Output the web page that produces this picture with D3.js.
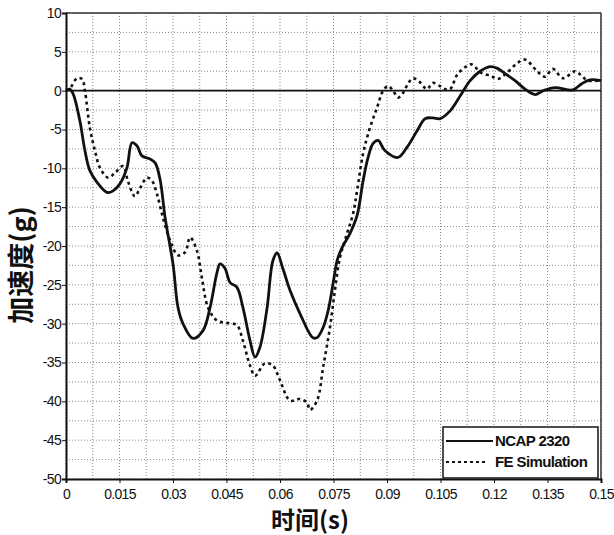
<!DOCTYPE html>
<html>
<head>
<meta charset="utf-8">
<script src="https://cdn.jsdelivr.net/npm/d3@7"></script>
<style>
    body { margin: 0; background: #fff; }
    #chart svg { display: block; }
    .tick text { font-family: "Liberation Sans", Arial, sans-serif; font-size: 14px; letter-spacing: -0.7px; fill: #111; }
    .grid line { stroke: #888; stroke-width: 1; stroke-dasharray: 1,2; }
</style>
</head>
<body>
<div id="chart"></div>
<script>
// time (s) and acceleration (g)
var ncap_data = [
    [0, 0], [0.001, 0.2], [0.002, -0.4], [0.0039, -3.9], [0.0053, -7.7], [0.0067, -10.3],
    [0.0087, -11.8], [0.0115, -13.1], [0.0132, -12.9], [0.0151, -12.0], [0.0171, -9.9],
    [0.0185, -6.7], [0.0199, -7.1], [0.0213, -8.4], [0.0236, -8.8], [0.025, -9.3],
    [0.0264, -11.5], [0.0278, -16.4], [0.03, -22.3], [0.0314, -27.9], [0.0328, -30.0],
    [0.0356, -31.9], [0.0384, -30.9], [0.0404, -27.9], [0.0423, -23.5], [0.0432, -22.3],
    [0.0446, -22.9], [0.046, -24.7], [0.0479, -25.3], [0.0496, -27.9], [0.0516, -32.2],
    [0.053, -34.3], [0.0544, -33.0], [0.0564, -27.9], [0.058, -21.9], [0.0592, -20.9],
    [0.0608, -22.9], [0.0628, -25.7], [0.0656, -28.7], [0.0692, -31.8], [0.0704, -31.8],
    [0.0721, -30.5], [0.0735, -28.3], [0.0749, -24.8], [0.076, -21.9], [0.0774, -20.2],
    [0.0796, -18.4], [0.0816, -16.1], [0.0833, -11.6], [0.0847, -8.6], [0.0861, -6.8],
    [0.0875, -6.4], [0.0894, -7.7], [0.0931, -8.6], [0.0956, -7.3], [0.0984, -5.2],
    [0.1007, -3.6], [0.1029, -3.5], [0.1049, -3.6], [0.1077, -2.6], [0.1105, -0.7],
    [0.1133, 1.3], [0.1161, 2.5], [0.1189, 3.1], [0.1208, 2.9], [0.1231, 2.2],
    [0.1259, 1.3], [0.1287, 0.2], [0.1315, -0.5], [0.1338, 0.0], [0.1371, 0.4],
    [0.1421, 0.1], [0.1446, 0.9], [0.1469, 1.4], [0.15, 1.3]
];

var fe_data = [
    [0, 0], [0.0011, 0.3], [0.0031, 1.6], [0.0045, 1.5], [0.0053, 0], [0.0067, -4.8],
    [0.0081, -7.7], [0.0095, -9.9], [0.0118, -11.2], [0.0137, -10.6], [0.016, -9.7],
    [0.0174, -11.7], [0.0193, -13.6], [0.0207, -12.6], [0.0227, -11.2], [0.0241, -11.6],
    [0.0255, -13.3], [0.0272, -16.4], [0.0292, -19.3], [0.0314, -21.2], [0.0334, -20.8],
    [0.0348, -18.9], [0.0367, -20.6], [0.0381, -24.1], [0.0398, -27.9], [0.0423, -29.6],
    [0.0451, -29.9], [0.0479, -30.2], [0.0496, -32.2], [0.0516, -35.4], [0.053, -36.7],
    [0.0558, -35.1], [0.058, -35.4], [0.06, -37.3], [0.0628, -39.9], [0.0656, -39.7],
    [0.0676, -40.2], [0.0684, -41.1], [0.0704, -39.9], [0.0721, -35.6], [0.074, -30.5],
    [0.0754, -25.7], [0.0768, -21.5], [0.0788, -18.4], [0.0805, -15.8], [0.0816, -12.9],
    [0.0833, -8.1], [0.0852, -4.8], [0.0872, -2.2], [0.0889, 0], [0.0903, 0.6],
    [0.0917, 0], [0.0931, -0.9], [0.0945, -0.3], [0.0959, 0.9], [0.0973, 1.6],
    [0.0992, 1.1], [0.1012, 0.2], [0.1029, 1.0], [0.1048, 0.6], [0.1063, 0.2],
    [0.1077, 0.2], [0.1096, 2.0], [0.1113, 2.8], [0.1136, 3.4], [0.1164, 2.3],
    [0.1192, 1.9], [0.121, 1.5], [0.1236, 2.3], [0.1264, 3.5], [0.1287, 4.0],
    [0.1321, 2.5], [0.1343, 1.8], [0.1365, 2.8], [0.1393, 1.6], [0.1427, 2.5],
    [0.1446, 1.9], [0.1463, 1.3], [0.15, 1.3]
];

var x_ticks = [0, 0.015, 0.03, 0.045, 0.06, 0.075, 0.09, 0.105, 0.12, 0.135, 0.15];
var x_tick_labels = ["0", "0.015", "0.03", "0.045", "0.06", "0.075", "0.09", "0.105", "0.12", "0.135", "0.15"];
var y_ticks = [10, 5, 0, -5, -10, -15, -20, -25, -30, -35, -40, -45, -50];
var series_names = ["NCAP 2320", "FE Simulation"];

var width = 614, height = 535;
var margin = {top: 13, right: 13, bottom: 56, left: 66};
var plot_w = width - margin.left - margin.right;
var plot_h = height - margin.top - margin.bottom;

var svg = d3.select("#chart").append("svg")
            .attr("width", width)
            .attr("height", height);

var xscale = d3.scaleLinear().domain([0, 0.15]).range([0, plot_w]);
var yscale = d3.scaleLinear().domain([-50, 10]).range([plot_h, 0]);

var g = svg.append("g")
           .attr("transform", "translate(" + margin.left + "," + margin.top + ")");

// dotted grid, every half tick
var x_grid = d3.range(0, 0.1501, 0.0075);
var y_grid = d3.range(-50, 10.01, 2.5);

g.append("g").attr("class", "grid")
 .selectAll("line")
 .data(x_grid)
 .enter().append("line")
 .attr("x1", function(d) { return xscale(d); })
 .attr("x2", function(d) { return xscale(d); })
 .attr("y1", 0)
 .attr("y2", plot_h);

g.append("g").attr("class", "grid")
 .selectAll("line")
 .data(y_grid)
 .enter().append("line")
 .attr("x1", 0)
 .attr("x2", plot_w)
 .attr("y1", function(d) { return yscale(d); })
 .attr("y2", function(d) { return yscale(d); });

// frame
g.append("line")
 .attr("x1", 0).attr("x2", plot_w)
 .attr("y1", 0).attr("y2", 0)
 .style("stroke", "#333").style("stroke-width", 1.5);
g.append("line")
 .attr("x1", plot_w).attr("x2", plot_w)
 .attr("y1", 0).attr("y2", plot_h)
 .style("stroke", "#333").style("stroke-width", 1.5);

// zero line
g.append("line")
 .attr("x1", 0).attr("x2", plot_w)
 .attr("y1", yscale(0)).attr("y2", yscale(0))
 .style("stroke", "#111").style("stroke-width", 1.6);

var xaxis = d3.axisBottom(xscale)
              .tickValues(x_ticks)
              .tickSize(4)
              .tickFormat(function(d, i) { return x_tick_labels[i]; });

var yaxis = d3.axisLeft(yscale)
              .tickValues(y_ticks)
              .tickSize(4)
              .tickPadding(1)
              .tickFormat(function(d) { return d; });

var gx = g.append("g")
          .attr("transform", "translate(0," + plot_h + ")")
          .call(xaxis);
gx.select(".domain").style("stroke", "#111").style("stroke-width", 2);
gx.selectAll(".tick line").style("stroke", "#111");
gx.selectAll(".tick text").attr("dy", "0.9em");

var gy = g.append("g").call(yaxis);
gy.select(".domain").style("stroke", "#111").style("stroke-width", 2);
gy.selectAll(".tick line").style("stroke", "#111");

// curves
var line = d3.line()
             .x(function(d) { return xscale(d[0]); })
             .y(function(d) { return yscale(d[1]); })
             .curve(d3.curveCatmullRom.alpha(0.5));

g.append("path")
 .datum(fe_data)
 .attr("d", line)
 .attr("fill", "none")
 .style("stroke", "#111")
 .style("stroke-width", 2.6)
 .style("stroke-dasharray", "3,3.5");

g.append("path")
 .datum(ncap_data)
 .attr("d", line)
 .attr("fill", "none")
 .style("stroke", "#111")
 .style("stroke-width", 2.8);

// legend
var legend = svg.append("g").attr("transform", "translate(443,427)");
legend.append("rect")
      .attr("width", 155)
      .attr("height", 51)
      .attr("fill", "#fff")
      .style("stroke", "#222")
      .style("stroke-width", 1.6);

legend.append("line")
      .attr("x1", 3).attr("x2", 50).attr("y1", 14).attr("y2", 14)
      .style("stroke", "#111").style("stroke-width", 2.2);
legend.append("line")
      .attr("x1", 3).attr("x2", 42).attr("y1", 35).attr("y2", 35)
      .style("stroke", "#111").style("stroke-width", 2)
      .style("stroke-dasharray", "3,3");

legend.selectAll("text")
      .data(series_names)
      .enter().append("text")
      .attr("x", 52)
      .attr("y", function(d, i) { return 19 + i * 21; })
      .style("font-family", "'Liberation Sans', Arial, sans-serif")
      .style("font-weight", "bold")
      .style("font-size", "15px")
      .style("letter-spacing", "-0.6px")
      .style("fill", "#111")
      .text(function(d) { return d; });

// axis titles
svg.append("text")
   .attr("x", 310)
   .attr("y", 529)
   .attr("text-anchor", "middle")
   .style("font-family", "'Noto Sans CJK SC', sans-serif")
   .style("font-weight", "bold")
   .style("font-size", "24px")
   .style("fill", "#111")
   .text("时间(s)");

svg.append("text")
   .attr("transform", "translate(31,265) rotate(-90)")
   .attr("text-anchor", "middle")
   .style("font-family", "'Noto Sans CJK SC', sans-serif")
   .style("font-weight", "bold")
   .style("font-size", "27px")
   .style("fill", "#111")
   .text("加速度(g)");
</script>
</body>
</html>
